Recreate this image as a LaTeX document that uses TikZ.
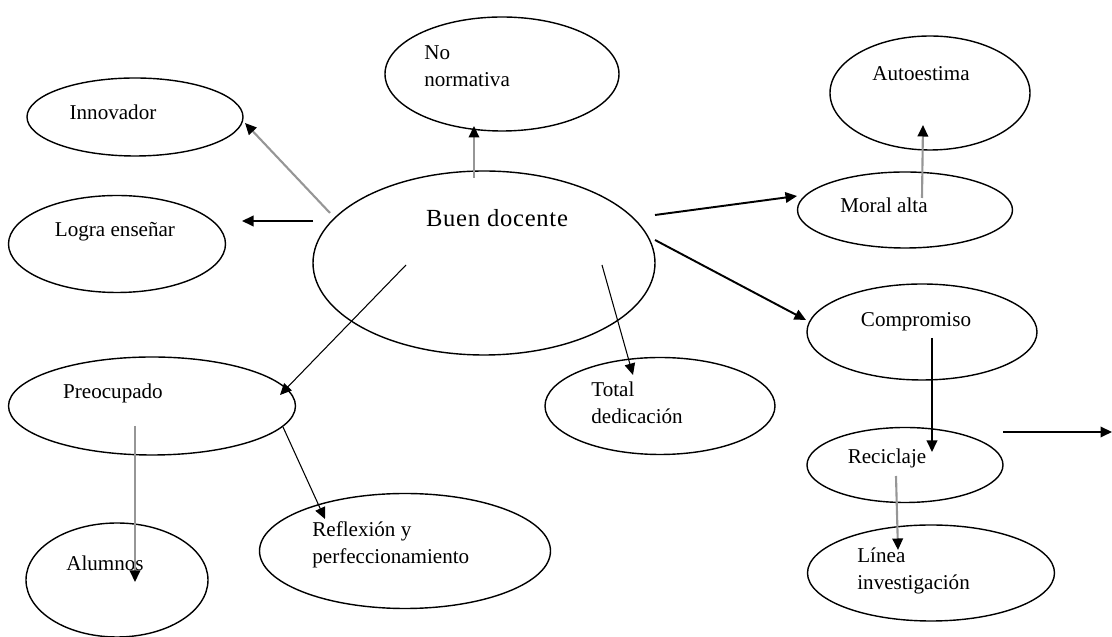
\documentclass[tikz,border=0pt]{standalone}
\usepackage{fontspec}
\setmainfont{Liberation Serif}
\usetikzlibrary{arrows.meta,shapes.geometric}
\definecolor{arrowgray}{RGB}{150,150,150}
\tikzset{
  oval/.style={draw=black, ellipse, line width=0.8pt, inner sep=0pt},
  txt/.style={inner sep=0pt, align=left},
  blackArrow/.style={draw=black, line width=1.1pt, -{Triangle[length=2.3mm, width=2.1mm]}},
  thinArrow/.style={draw=black, line width=0.6pt, -{Triangle[length=2.3mm, width=2.1mm]}},
  grayArrow/.style={draw=arrowgray, line width=1.2pt, -{Triangle[length=2.3mm, width=2.1mm, color=black]}}
}
\begin{document}
\begin{tikzpicture}[font=\fontsize{12}{15.5}\selectfont]
\useasboundingbox (0,0) rectangle (22.24,-12.74);
\node[oval, minimum width=6.84cm, minimum height=3.68cm] (Buen docente) at (9.68,-5.26) {};
\node[oval, minimum width=4.32cm, minimum height=1.56cm] (Innovador) at (2.70,-2.34) {};
\node[oval, minimum width=4.68cm, minimum height=2.28cm] (No normativa) at (10.04,-1.48) {};
\node[oval, minimum width=4.34cm, minimum height=1.94cm] (Logra ensenar) at (2.34,-4.88) {};
\node[oval, minimum width=4.00cm, minimum height=2.28cm] (Autoestima) at (18.60,-1.86) {};
\node[oval, minimum width=4.30cm, minimum height=1.52cm] (Moral alta) at (18.10,-4.20) {};
\node[oval, minimum width=4.60cm, minimum height=1.92cm] (Compromiso) at (18.44,-6.64) {};
\node[oval, minimum width=4.60cm, minimum height=1.94cm] (Total dedicacion) at (13.20,-8.12) {};
\node[oval, minimum width=3.92cm, minimum height=1.50cm] (Reciclaje) at (18.10,-9.30) {};
\node[oval, minimum width=4.94cm, minimum height=1.92cm] (Linea investigacion) at (18.62,-11.46) {};
\node[oval, minimum width=5.74cm, minimum height=1.96cm] (Preocupado) at (3.04,-8.12) {};
\node[oval, minimum width=3.64cm, minimum height=2.28cm] (Alumnos) at (2.34,-11.60) {};
\node[oval, minimum width=5.82cm, minimum height=2.30cm] (Reflexion) at (8.10,-11.02) {};
% texts
\node[txt, font=\fontsize{14}{16}\selectfont] (Buen docente T) at (9.94,-4.36) {\addfontfeature{LetterSpace=3}Buen docente};
\node[txt] (Innovador T) at (2.26,-2.24) {Innovador};
\node[txt, anchor=west] (No normativa T) at (8.48,-1.32) {No\\normativa};
\node[txt] (Logra ensenar T) at (2.30,-4.64) {Logra enseñar};
\node[txt] (Autoestima T) at (18.42,-1.48) {Autoestima};
\node[txt] (Moral alta T) at (17.68,-4.10) {Moral alta};
\node[txt] (Compromiso T) at (18.32,-6.44) {Compromiso};
\node[txt, anchor=west] (Total dedicacion T) at (11.82,-8.06) {Total\\dedicación};
\node[txt] (Reciclaje T) at (17.74,-9.16) {Reciclaje};
\node[txt, anchor=west] (Linea investigacion T) at (17.14,-11.42) {Línea\\investigación};
\node[txt] (Preocupado T) at (2.26,-7.86) {Preocupado};
\node[txt] (Alumnos T) at (2.10,-11.26) {Alumnos};
\node[txt, anchor=west] (Reflexion T) at (6.24,-10.90) {Reflexión y\\perfeccionamiento};
% connectors
\draw[grayArrow] ([shift={(-3.08,1.00)}]Buen docente.center) -- ([shift={(2.20,-0.12)}]Innovador.center);
\draw[blackArrow] ([shift={(-3.42,0.84)}]Buen docente.center) -- ([shift={(2.50,0.46)}]Logra ensenar.center);
\draw[grayArrow] ([shift={(-0.20,1.70)}]Buen docente.center) -- ([shift={(-0.56,-1.04)}]No normativa.center);
\draw[blackArrow] ([shift={(3.42,0.96)}]Buen docente.center) -- ([shift={(-2.16,0.28)}]Moral alta.center);
\draw[grayArrow] ([shift={(0.34,0.24)}]Moral alta.center) -- ([shift={(-0.14,-0.64)}]Autoestima.center);
\draw[blackArrow] ([shift={(3.42,0.46)}]Buen docente.center) -- ([shift={(-2.32,0.24)}]Compromiso.center);
\draw[thinArrow] ([shift={(2.36,-0.04)}]Buen docente.center) -- ([shift={(-0.54,0.62)}]Total dedicacion.center);
\draw[thinArrow] ([shift={(-1.56,-0.04)}]Buen docente.center) -- ([shift={(2.56,0.22)}]Preocupado.center);
\draw[grayArrow] ([shift={(-0.34,-0.40)}]Preocupado.center) -- ([shift={(0.36,-0.04)}]Alumnos.center);
\draw[thinArrow] ([shift={(2.62,-0.42)}]Preocupado.center) -- ([shift={(-1.60,0.64)}]Reflexion.center);
\draw[blackArrow] ([shift={(0.20,-0.12)}]Compromiso.center) -- ([shift={(0.54,0.26)}]Reciclaje.center);
\draw[grayArrow] ([shift={(-0.18,-0.22)}]Reciclaje.center) -- ([shift={(-0.66,0.46)}]Linea investigacion.center);
\coordinate (Loose start) at (20.06,-8.64);
\coordinate (Loose end) at (22.24,-8.64);
\draw[blackArrow] (Loose start) -- (Loose end);
\end{tikzpicture}
\end{document}
